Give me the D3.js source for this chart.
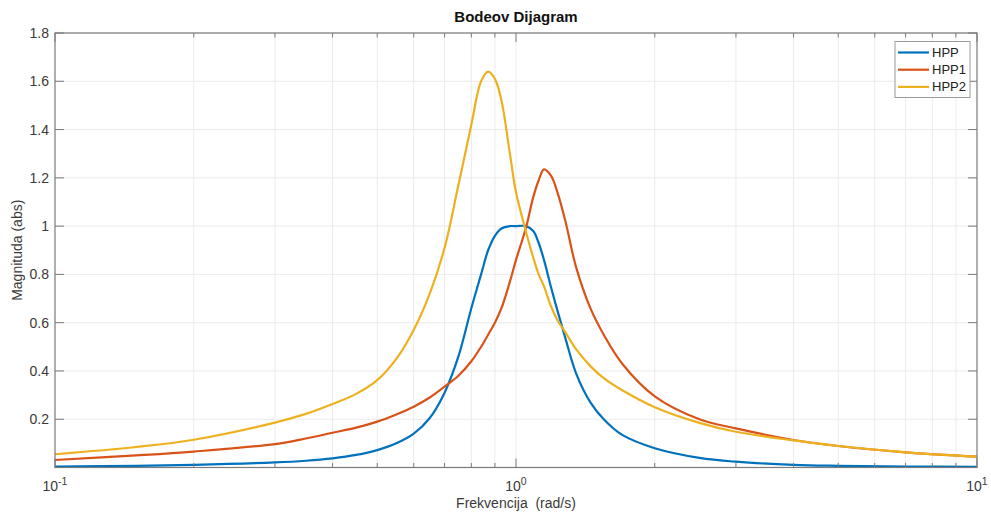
<!DOCTYPE html>
<html>
<head>
<meta charset="utf-8">
<script src="https://cdn.jsdelivr.net/npm/d3@7"></script>
<style>
  body { margin: 0; background: #fff; }
  svg { font-family: "Liberation Sans", Arial, sans-serif; }
</style>
</head>
<body>
<svg id="chart" width="991" height="516"></svg>
<script>
// frequencies (rad/s) and magnitudes
var freq = [0.1, 0.15, 0.2, 0.3, 0.35, 0.4, 0.45, 0.5, 0.55, 0.6, 0.65, 0.7, 0.75, 0.8, 0.84, 0.87, 0.9, 0.93, 0.97, 1.0, 1.05, 1.09, 1.12, 1.15, 1.19, 1.23, 1.28, 1.35, 1.45, 1.55, 1.7, 2.0, 2.5, 3, 4, 5, 7, 10];
var hpp  = [0.004, 0.007, 0.011, 0.021, 0.028, 0.038, 0.052, 0.072, 0.1, 0.14, 0.205, 0.31, 0.46, 0.66, 0.8, 0.9, 0.96, 0.99, 1.0, 1.0, 1.0, 0.98, 0.93, 0.86, 0.75, 0.65, 0.535, 0.39, 0.27, 0.2, 0.135, 0.08, 0.04, 0.024, 0.011, 0.007, 0.004, 0.003];
var hpp1 = [0.031, 0.05, 0.066, 0.097, 0.12, 0.144, 0.165, 0.19, 0.22, 0.252, 0.29, 0.335, 0.38, 0.44, 0.5, 0.55, 0.6, 0.66, 0.77, 0.86, 0.99, 1.12, 1.19, 1.235, 1.21, 1.14, 1.02, 0.83, 0.66, 0.55, 0.43, 0.295, 0.2, 0.162, 0.114, 0.089, 0.063, 0.045];
var hpp2 = [0.055, 0.085, 0.115, 0.186, 0.222, 0.263, 0.305, 0.362, 0.45, 0.57, 0.72, 0.91, 1.17, 1.42, 1.6, 1.64, 1.61, 1.52, 1.3, 1.14, 0.98, 0.87, 0.8, 0.75, 0.67, 0.61, 0.56, 0.49, 0.42, 0.37, 0.32, 0.25, 0.185, 0.148, 0.112, 0.089, 0.063, 0.045];

var seriesNames = ["HPP", "HPP1", "HPP2"];
var seriesColors = ["#0072BD", "#D95319", "#EDB120"];
var yTicks = [0.2, 0.4, 0.6, 0.8, 1, 1.2, 1.4, 1.6, 1.8];
var xMajor = [0.1, 1, 10];
var xMinor = [0.2,0.3,0.4,0.5,0.6,0.7,0.8,0.9,2,3,4,5,6,7,8,9];

var svg = d3.select("#chart");
var pL = 55, pR = 977, pT = 33, pB = 467.5;

var x = d3.scaleLog().domain([0.1, 10]).range([pL, pR]);
var y = d3.scaleLinear().domain([0, 1.8]).range([pB, pT]);

// grid
var grid = svg.append("g").attr("stroke", "#ebebeb").attr("stroke-width", 1);
grid.selectAll(".gx").data(xMinor.concat([1])).enter().append("line")
  .attr("x1", function(d){return x(d);}).attr("x2", function(d){return x(d);})
  .attr("y1", pT).attr("y2", pB);
grid.selectAll(".gy").data(yTicks).enter().append("line")
  .attr("x1", pL).attr("x2", pR)
  .attr("y1", function(d){return y(d);}).attr("y2", function(d){return y(d);});

// curves
var line = d3.line()
  .x(function(d){return x(d[0]);})
  .y(function(d){return y(d[1]);})
  .curve(d3.curveCatmullRom.alpha(0.5));

[hpp, hpp1, hpp2].forEach(function(vals, k){
  svg.append("path")
    .datum(freq.map(function(f, i){return [f, vals[i]];}))
    .attr("fill", "none")
    .attr("stroke", seriesColors[k])
    .attr("stroke-width", 2.2)
    .attr("stroke-linejoin", "round")
    .attr("d", line);
});

// box + ticks
var axc = "#7a7a7a";
svg.append("rect").attr("x", pL).attr("y", pT)
  .attr("width", pR-pL).attr("height", pB-pT)
  .attr("fill", "none").attr("stroke", axc).attr("stroke-width", 1.2);

var ticks = svg.append("g").attr("stroke", axc).attr("stroke-width", 1);
xMinor.forEach(function(d){
  ticks.append("line").attr("x1", x(d)).attr("x2", x(d)).attr("y1", pB).attr("y2", pB-4.5);
  ticks.append("line").attr("x1", x(d)).attr("x2", x(d)).attr("y1", pT).attr("y2", pT+4.5);
});
xMajor.forEach(function(d){
  ticks.append("line").attr("x1", x(d)).attr("x2", x(d)).attr("y1", pB).attr("y2", pB-9);
  ticks.append("line").attr("x1", x(d)).attr("x2", x(d)).attr("y1", pT).attr("y2", pT+9);
});
yTicks.forEach(function(d){
  ticks.append("line").attr("x1", pL).attr("x2", pL+9).attr("y1", y(d)).attr("y2", y(d));
  ticks.append("line").attr("x1", pR).attr("x2", pR-9).attr("y1", y(d)).attr("y2", y(d));
});

// tick labels
var labc = "#3a3a3a";
svg.append("g").selectAll("text").data(yTicks).enter().append("text")
  .attr("x", pL-6).attr("y", function(d){return y(d)+5;})
  .attr("text-anchor", "end").attr("font-size", 14).attr("fill", labc)
  .text(function(d){return d;});

var xl = svg.append("g").selectAll("text").data(xMajor).enter().append("text")
  .attr("x", function(d){return x(d);}).attr("y", 491)
  .attr("text-anchor", "middle").attr("font-size", 14).attr("fill", labc);
xl.append("tspan").text("10");
xl.append("tspan").attr("dy", -6).attr("font-size", 10.5)
  .text(function(d){return String(Math.round(Math.log10(d)));});

// titles
svg.append("text").attr("x", (pL+pR)/2).attr("y", 22)
  .attr("text-anchor", "middle").attr("font-size", 15).attr("font-weight", "bold")
  .attr("fill", "#111").text("Bodeov Dijagram");
svg.append("text").attr("x", (pL+pR)/2).attr("y", 508)
  .attr("text-anchor", "middle").attr("font-size", 14).attr("fill", labc)
  .style("white-space", "pre")
  .text("Frekvencija  (rad/s)");
svg.append("text").attr("transform", "translate(22," + ((pT+pB)/2) + ") rotate(-90)")
  .attr("text-anchor", "middle").attr("font-size", 14).attr("fill", labc)
  .text("Magnituda (abs)");

// legend
var lg = svg.append("g");
lg.append("rect").attr("x", 895).attr("y", 41.5).attr("width", 75).attr("height", 56)
  .attr("fill", "#fff").attr("stroke", "#9a9a9a").attr("stroke-width", 1);
seriesNames.forEach(function(n, i){
  var ly = 52.5 + i*17.2;
  lg.append("line").attr("x1", 898).attr("x2", 929).attr("y1", ly).attr("y2", ly)
    .attr("stroke", seriesColors[i]).attr("stroke-width", 2.2);
  lg.append("text").attr("x", 932).attr("y", ly+4.5).attr("font-size", 13)
    .attr("fill", "#222").text(n);
});
</script>
</body>
</html>
